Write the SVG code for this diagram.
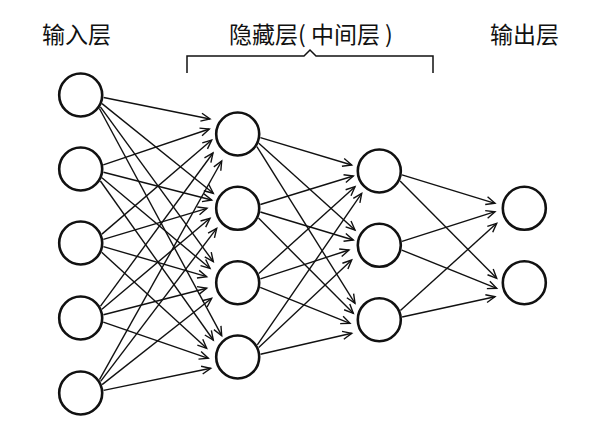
<svg xmlns="http://www.w3.org/2000/svg" width="604" height="421" viewBox="0 0 604 421">
<defs>
<style>
.lbl{font-family:"Noto Sans CJK SC","Noto Sans",sans-serif;font-size:23px;fill:#111}
.node{fill:#fff;stroke:#111;stroke-width:2.6}
.edge{stroke:#111;stroke-width:1.4;fill:none;marker-end:url(#arr)}
.br{stroke:#111;stroke-width:1.5;fill:none}
</style>
<marker id="arr" markerUnits="userSpaceOnUse" orient="auto" overflow="visible" refX="0" refY="0" markerWidth="12" markerHeight="12">
<path d="M-9,-4 L0,0 L-9,4" fill="none" stroke="#111" stroke-width="1.4"/>
</marker>
</defs>
<rect width="604" height="421" fill="#fff"/>
<g id="labels">
<text class="lbl" x="42" y="43">输入层</text>
<text class="lbl" x="229" y="43">隐藏层( 中间层 )</text>
<text class="lbl" x="490" y="43">输出层</text>
<path class="br" d="M187,73 V56 H304 L310,50 L316,56 H433 V73"/>
</g>
<g id="connectors">
<line class="edge" x1="103.6" y1="97.5" x2="210" y2="119"/>
<line class="edge" x1="102.0" y1="103.6" x2="213.3" y2="193.3"/>
<line class="edge" x1="100.4" y1="106.8" x2="213.3" y2="261.7"/>
<line class="edge" x1="99.4" y1="108.5" x2="221.7" y2="335.7"/>
<line class="edge" x1="103.3" y1="164.8" x2="209.3" y2="129"/>
<line class="edge" x1="103.5" y1="172.2" x2="211.7" y2="200"/>
<line class="edge" x1="101.9" y1="177.8" x2="210" y2="268.3"/>
<line class="edge" x1="100.4" y1="181.0" x2="213.3" y2="340"/>
<line class="edge" x1="101.9" y1="234.1" x2="211.7" y2="140"/>
<line class="edge" x1="103.4" y1="239.3" x2="207" y2="208.3"/>
<line class="edge" x1="103.4" y1="246.6" x2="206.7" y2="276.7"/>
<line class="edge" x1="101.7" y1="252.3" x2="206.7" y2="348.3"/>
<line class="edge" x1="100.5" y1="306.2" x2="213" y2="153"/>
<line class="edge" x1="101.9" y1="309.2" x2="210" y2="218.3"/>
<line class="edge" x1="103.5" y1="314.8" x2="206.7" y2="288.3"/>
<line class="edge" x1="103.3" y1="322.2" x2="208.3" y2="358.3"/>
<line class="edge" x1="99.5" y1="379.7" x2="221.7" y2="161"/>
<line class="edge" x1="100.6" y1="381.4" x2="216.7" y2="228.3"/>
<line class="edge" x1="102.1" y1="384.6" x2="211.7" y2="298.3"/>
<line class="edge" x1="103.6" y1="390.4" x2="210.7" y2="368.3"/>
<line class="edge" x1="260.4" y1="137.6" x2="351.7" y2="165"/>
<line class="edge" x1="258.8" y1="143.2" x2="355" y2="230"/>
<line class="edge" x1="256.9" y1="146.6" x2="355" y2="303.3"/>
<line class="edge" x1="260.4" y1="204.5" x2="353.3" y2="176"/>
<line class="edge" x1="260.4" y1="212.0" x2="353.3" y2="240"/>
<line class="edge" x1="258.5" y1="218.1" x2="353.3" y2="313.3"/>
<line class="edge" x1="258.8" y1="273.5" x2="355" y2="186.7"/>
<line class="edge" x1="260.4" y1="278.8" x2="349" y2="250"/>
<line class="edge" x1="260.2" y1="287.4" x2="350" y2="323.3"/>
<line class="edge" x1="257.3" y1="344.9" x2="361.7" y2="193.3"/>
<line class="edge" x1="258.7" y1="347.6" x2="351.7" y2="260"/>
<line class="edge" x1="260.5" y1="354.2" x2="351.7" y2="333.3"/>
<line class="edge" x1="402.0" y1="174.8" x2="495" y2="203.3"/>
<line class="edge" x1="400.1" y1="180.9" x2="496.7" y2="278.3"/>
<line class="edge" x1="402.0" y1="241.4" x2="495" y2="211.7"/>
<line class="edge" x1="401.8" y1="250.1" x2="496.7" y2="288.3"/>
<line class="edge" x1="400.4" y1="310.5" x2="496.7" y2="223.3"/>
<line class="edge" x1="402.1" y1="317.0" x2="495" y2="296.7"/>
</g>
<g id="input-layer">
<circle id="in1" class="node" cx="80.7" cy="95" r="21.5"/>
<circle id="in2" class="node" cx="80.7" cy="169" r="21.5"/>
<circle id="in3" class="node" cx="80.7" cy="243" r="21.5"/>
<circle id="in4" class="node" cx="80.7" cy="318" r="21.5"/>
<circle id="in5" class="node" cx="80.7" cy="393" r="21.5"/>
</g>
<g id="hidden-layer-1">
<circle id="h1a" class="node" cx="237.7" cy="134" r="21.5"/>
<circle id="h1b" class="node" cx="237.7" cy="208.3" r="21.5"/>
<circle id="h1c" class="node" cx="237.7" cy="282.7" r="21.5"/>
<circle id="h1d" class="node" cx="237.7" cy="357" r="21.5"/>
</g>
<g id="hidden-layer-2">
<circle id="h2a" class="node" cx="379.3" cy="171" r="21.5"/>
<circle id="h2b" class="node" cx="379.3" cy="245.3" r="21.5"/>
<circle id="h2c" class="node" cx="379.3" cy="319.7" r="21.5"/>
</g>
<g id="output-layer">
<circle id="out1" class="node" cx="524.3" cy="208.3" r="21.5"/>
<circle id="out2" class="node" cx="524.3" cy="282.7" r="21.5"/>
</g>
</svg>
